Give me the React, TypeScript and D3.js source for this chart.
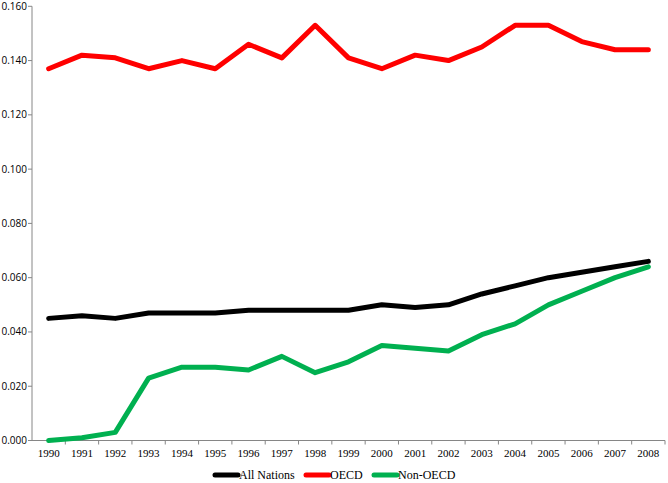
import React from "react";
import * as d3 from "d3";

const years = ["1990","1991","1992","1993","1994","1995","1996","1997","1998","1999","2000","2001","2002","2003","2004","2005","2006","2007","2008"];
const allNations = [0.045,0.046,0.045,0.047,0.047,0.047,0.048,0.048,0.048,0.048,0.050,0.049,0.050,0.054,0.057,0.060,0.062,0.064,0.066];
const oecd = [0.137,0.142,0.141,0.137,0.140,0.137,0.146,0.141,0.153,0.141,0.137,0.142,0.140,0.145,0.153,0.153,0.147,0.144,0.144];
const nonOecd = [0.000,0.001,0.003,0.023,0.027,0.027,0.026,0.031,0.025,0.029,0.035,0.034,0.033,0.039,0.043,0.050,0.055,0.060,0.064];
const yTicks = [0,0.02,0.04,0.06,0.08,0.1,0.12,0.14,0.16];

const seriesNames = ["All Nations","OECD","Non-OECD"];
const seriesColors = ["#000000","#FF0000","#00B050"];
const seriesData = [allNations, oecd, nonOecd];

export default function App() {
  const W = 668, H = 483;
  const left = 32, right = 665, top = 6.3, bottom = 440.5;
  const x = d3.scaleBand<string>().domain(years).range([left, right]);
  const y = d3.scaleLinear().domain([0, 0.16]).range([bottom, top]);
  const line = d3.line<number>()
    .x((_, i) => (x(years[i]) as number) + x.bandwidth() / 2)
    .y(d => y(d));
  const axisColor = "#868686";
  const legendItems = [
    { x0: 215, x1: 238, tx: 239 },
    { x0: 306, x1: 329, tx: 330 },
    { x0: 374, x1: 397, tx: 398 },
  ];
  return (
    <svg width={W} height={H} style={{ position: "absolute", left: 0, top: 0, background: "#fff" }}>
      <line x1={left} x2={left} y1={top} y2={bottom} stroke={axisColor} strokeWidth={1} />
      {yTicks.map(t => (
        <g key={t}>
          <line x1={left - 4} x2={left} y1={y(t)} y2={y(t)} stroke={axisColor} />
          <text x={left - 5} y={y(t)} dy="0.35em" textAnchor="end" fontFamily="'Open Sans', sans-serif" fontSize={10} fill="#000">{t.toFixed(3)}</text>
        </g>
      ))}
      <line x1={left} x2={right} y1={bottom} y2={bottom} stroke={axisColor} />
      {years.map((yr) => (
        <g key={yr}>
          <line x1={(x(yr) as number) + x.bandwidth()} x2={(x(yr) as number) + x.bandwidth()} y1={bottom} y2={bottom + 4} stroke={axisColor} />
          <text x={(x(yr) as number) + x.bandwidth() / 2} y={bottom + 16} textAnchor="middle" fontFamily="'Liberation Serif', 'Times New Roman', serif" fontSize={11} fill="#000">{yr}</text>
        </g>
      ))}
      {seriesData.map((d, i) => (
        <path key={i} d={line(d) || ""} fill="none" stroke={seriesColors[i]} strokeWidth={5} strokeLinejoin="round" strokeLinecap="round" />
      ))}
      {legendItems.map((it, i) => (
        <g key={i}>
          <line x1={it.x0} x2={it.x1} y1={475} y2={475} stroke={seriesColors[i]} strokeWidth={5} strokeLinecap="round" />
          <text x={it.tx} y={475} dy="0.35em" fontFamily="'Liberation Serif', 'Times New Roman', serif" fontSize={12} fill="#000">{seriesNames[i]}</text>
        </g>
      ))}
    </svg>
  );
}
